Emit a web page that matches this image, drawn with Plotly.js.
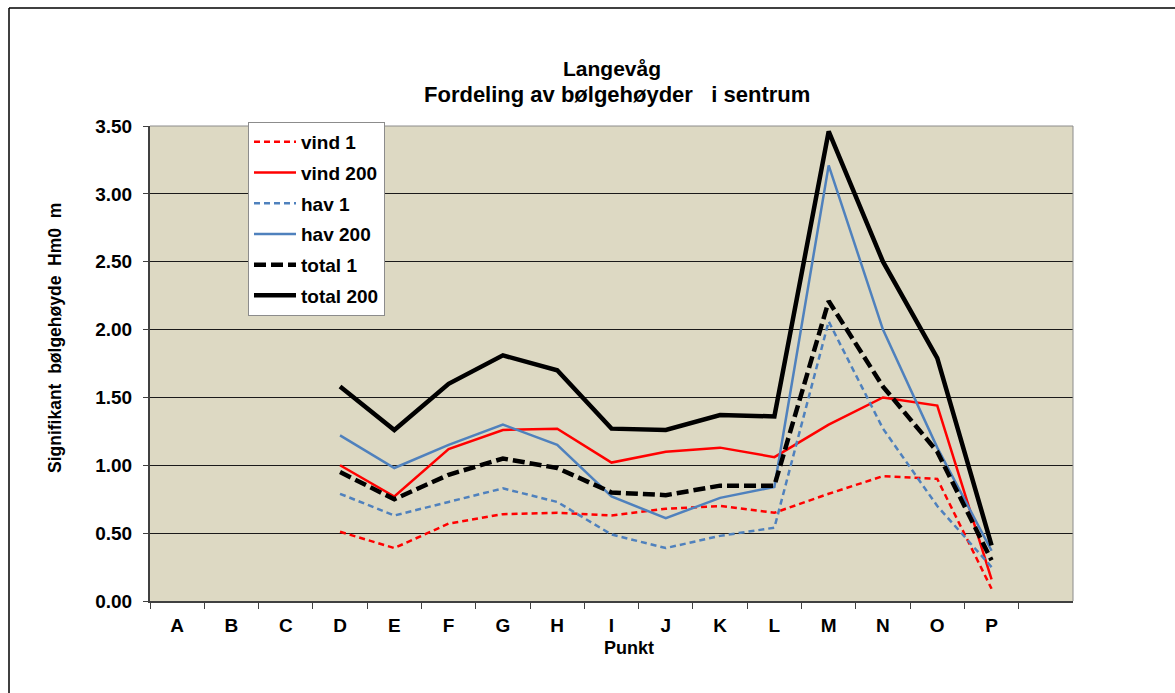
<!DOCTYPE html>
<html>
<head>
<meta charset="utf-8">
<script src="https://cdn.plot.ly/plotly-3.0.1.min.js"></script>
<style>
html,body{margin:0;padding:0;background:#fff;}
#chart{width:1175px;height:693px;}
</style>
</head>
<body>
<div id="chart"></div>
<script>
const categories = ['A','B','C','D','E','F','G','H','I','J','K','L','M','N','O','P'];
const vind1    = [null,null,null,0.51,0.39,0.57,0.64,0.65,0.63,0.68,0.70,0.65,0.79,0.92,0.90,0.09];
const vind200  = [null,null,null,1.00,0.77,1.12,1.26,1.27,1.02,1.10,1.13,1.06,1.30,1.50,1.44,0.16];
const hav1     = [null,null,null,0.79,0.63,0.73,0.83,0.73,0.49,0.39,0.48,0.54,2.06,1.27,0.70,0.25];
const hav200   = [null,null,null,1.22,0.98,1.15,1.30,1.15,0.77,0.61,0.76,0.84,3.21,2.00,1.13,0.37];
const total1   = [null,null,null,0.95,0.75,0.93,1.05,0.98,0.80,0.78,0.85,0.85,2.21,1.58,1.10,0.30];
const total200 = [null,null,null,1.58,1.26,1.60,1.81,1.70,1.27,1.26,1.37,1.36,3.46,2.50,1.79,0.41];
const seriesNames = ['vind 1','vind 200','hav 1','hav 200','total 1','total 200'];

const FONT = 'Arial, "Liberation Sans", sans-serif';
const RED = '#ff0000';
const BLUE = '#4f81bd';

function tr(name, y, color, width, dash, g) {
  return {
    type: 'scatter', mode: 'lines', name: name, x: categories, y: y,
    line: {color: color, width: width, dash: dash},
    legendgroup: g, connectgaps: false, hoverinfo: 'x+y+name'
  };
}

const data = [
  tr(seriesNames[0], vind1, RED, 2.5, '6px,4px', 'a'),
  tr(seriesNames[1], vind200, RED, 2.5, 'solid', 'b'),
  tr(seriesNames[2], hav1, BLUE, 2.5, '6px,4px', 'c'),
  tr(seriesNames[3], hav200, BLUE, 2.5, 'solid', 'd'),
  tr(seriesNames[4], total1, '#000000', 4.5, '12px,5px', 'e'),
  tr(seriesNames[5], total200, '#000000', 4.5, 'solid', 'f')
];

const L = 150, R = 102, T = 126, B = 92;
const PW = 1175 - L - R, PH = 693 - T - B;
const px = v => (v - L) / PW;
const py = v => (693 - B - v) / PH;

const layout = {
  width: 1175, height: 693,
  margin: {l: L, r: R, t: T, b: B, pad: 0},
  paper_bgcolor: '#ffffff',
  plot_bgcolor: '#ddd9c3',
  font: {family: FONT, color: '#000', size: 16},
  showlegend: true,
  legend: {
    x: px(248), y: py(122), xanchor: 'left', yanchor: 'top',
    bgcolor: '#ffffff', bordercolor: '#8c8c8c', borderwidth: 1,
    font: {family: FONT, size: 19, color: '#000', weight: 'bold'},
    tracegroupgap: 3, traceorder: 'grouped', itemwidth: 42
  },
  xaxis: {
    type: 'category', categoryorder: 'array', categoryarray: categories,
    range: [-0.5, 16.5], tickson: 'boundaries', ticks: 'outside', ticklen: 6,
    tickcolor: '#404040', tickwidth: 1, ticklabelstandoff: 6,
    showline: true, linecolor: '#404040', linewidth: 2, mirror: false,
    showgrid: false, zeroline: false, fixedrange: true,
    tickfont: {family: FONT, size: 19, weight: 'bold', color: '#000'}
  },
  yaxis: {
    range: [0, 3.5], dtick: 0.5, tick0: 0, tickformat: '.2f',
    ticks: 'outside', ticklen: 5, tickcolor: '#404040', ticklabelstandoff: 7,
    showline: true, linecolor: '#404040', linewidth: 2,
    showgrid: true, gridcolor: '#1a1a1a', gridwidth: 1, zeroline: false,
    fixedrange: true,
    tickfont: {family: FONT, size: 19, weight: 'bold', color: '#000'}
  },
  shapes: [
    {type: 'line', xref: 'paper', yref: 'paper', x0: 0, x1: 1, y0: 1, y1: 1, line: {color: '#8c8c8c', width: 1}},
    {type: 'line', xref: 'paper', yref: 'paper', x0: 1, x1: 1, y0: 0, y1: 1, line: {color: '#8c8c8c', width: 1}},
    {type: 'line', xref: 'paper', yref: 'paper', x0: px(9), x1: px(1180), y0: py(8), y1: py(8), line: {color: '#000', width: 1.5}},
    {type: 'line', xref: 'paper', yref: 'paper', x0: px(9), x1: px(9), y0: py(8), y1: py(700), line: {color: '#000', width: 1.5}}
  ],
  annotations: [
    {text: '<b>Langevåg</b>', xref: 'paper', yref: 'paper', x: px(612), y: py(69), showarrow: false,
     xanchor: 'center', yanchor: 'middle', font: {family: FONT, size: 21, color: '#000'}},
    {text: '<b>Fordeling av bølgehøyder&nbsp;&nbsp; i sentrum</b>', xref: 'paper', yref: 'paper', x: px(617), y: py(95), showarrow: false,
     xanchor: 'center', yanchor: 'middle', font: {family: FONT, size: 22, color: '#000'}},
    {text: '<b>Signifikant&nbsp; bølgehøyde&nbsp; Hm0&nbsp; m</b>', xref: 'paper', yref: 'paper', x: px(55), y: py(338), showarrow: false,
     textangle: -90, xanchor: 'center', yanchor: 'middle', font: {family: FONT, size: 17.5, color: '#000'}},
    {text: '<b>Punkt</b>', xref: 'paper', yref: 'paper', x: px(629), y: py(648), showarrow: false,
     xanchor: 'center', yanchor: 'middle', font: {family: FONT, size: 18, color: '#000'}}
  ]
};

Plotly.newPlot('chart', data, layout, {displayModeBar: false, staticPlot: true});
</script>
</body>
</html>
